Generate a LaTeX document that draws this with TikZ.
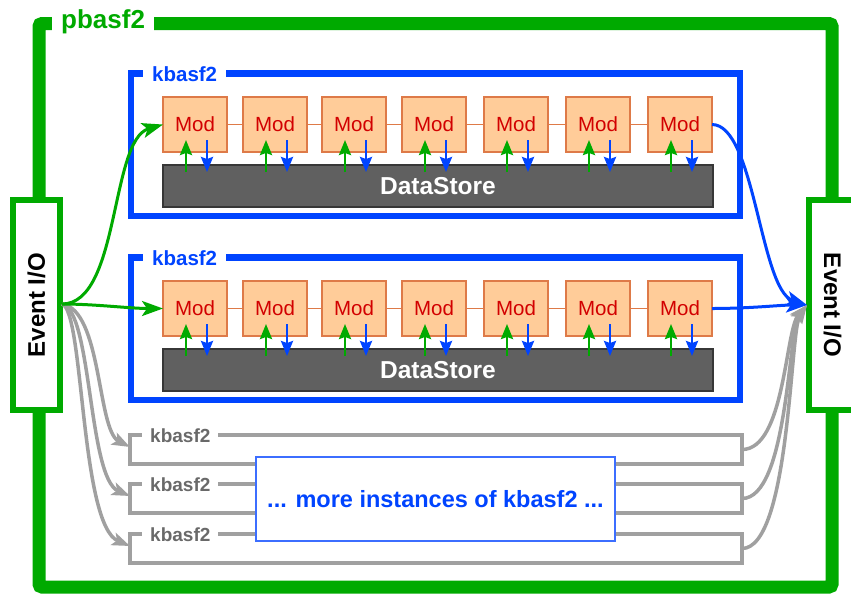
\documentclass[tikz,border=0pt]{standalone}
\usepackage{fontspec}
\setmainfont{Liberation Sans}
\usetikzlibrary{arrows.meta,calc}
\definecolor{pgreen}{RGB}{0,170,0}
\definecolor{kblue}{RGB}{0,68,255}
\definecolor{kbluelt}{RGB}{60,110,255}
\definecolor{modfill}{RGB}{255,204,153}
\definecolor{modline}{RGB}{222,122,72}
\definecolor{modtext}{RGB}{210,0,0}
\definecolor{dsfill}{RGB}{96,96,96}
\definecolor{dsline}{RGB}{55,55,55}
\definecolor{glines}{RGB}{160,160,160}
\definecolor{gtext}{RGB}{105,105,105}
\begin{document}
\begin{tikzpicture}[x=1pt,y=-1pt,
  modbox/.style={draw=modline,fill=modfill,line width=1.5pt,minimum width=64pt,minimum height=55pt,inner sep=0pt,outer sep=0pt,text=modtext,font=\fontsize{20.5}{24}\selectfont},
  dsbox/.style={draw=dsline,fill=dsfill,line width=1.2pt,minimum width=550pt,minimum height=42pt,inner sep=0pt,outer sep=0pt,text=white,font=\bfseries\fontsize{24.5}{28}\selectfont},
  kbox/.style={draw=kblue,line width=6.5pt,minimum width=609pt,minimum height=142.5pt,inner sep=0pt,outer sep=0pt},
  klabel/.style={fill=white,text=kblue,font=\bfseries\fontsize{20.5}{24}\selectfont,inner xsep=9pt,inner ysep=3pt,anchor=base west},
  plabel/.style={fill=white,text=pgreen,font=\bfseries\fontsize{26}{30}\selectfont,inner xsep=9pt,inner ysep=4pt,anchor=base west},
  gbox/.style={draw=glines,line width=3.5pt,minimum width=612pt,minimum height=29pt,inner sep=0pt,outer sep=0pt},
  glabel/.style={fill=white,text=gtext,font=\bfseries\fontsize{19}{22}\selectfont,inner xsep=8pt,inner ysep=2pt,anchor=base west},
  morebox/.style={draw=kbluelt,fill=white,line width=1.5pt,minimum width=359pt,minimum height=84pt,inner sep=0pt,outer sep=0pt,text=kblue,font=\bfseries\fontsize{23.5}{28}\selectfont},
  evbox/.style={draw=pgreen,fill=white,line width=6pt,minimum width=210pt,minimum height=47pt,inner sep=0pt,outer sep=0pt,font=\bfseries\fontsize{24}{28}\selectfont},
  link/.style={draw=modline,line width=1.6pt},
  uparrow/.style={draw=pgreen,line width=2.5pt,-{Stealth[length=15pt,width=12pt,inset=2pt]}},
  downarrow/.style={draw=kblue,line width=2.5pt,-{Stealth[length=15pt,width=12pt,inset=2pt]}},
  greenflow/.style={draw=pgreen,line width=3pt,-{Stealth[length=21pt,width=15pt,inset=5pt]}},
  blueflow/.style={draw=kblue,line width=3pt,-{Stealth[length=21pt,width=15pt,inset=5pt]}},
  grayflow/.style={draw=glines,line width=3.5pt,-{Stealth[length=18pt,width=13pt,inset=4pt]}},
]
\useasboundingbox (0,0) rectangle (851,595);
\fill[white] (0,0) rectangle (851,595);

% outer pbasf2 frame
\draw[pgreen,line width=13pt,rounded corners=3pt] (39,23.5) rectangle (832,587);
\node[plabel] (plab) at (52,28.5) {pbasf2};

% Event I/O boxes
\node[evbox,rotate=90] (evL) at (36.5,305) {Event I/O};
\node[evbox,rotate=-90] (evR) at (832.5,305) {Event I/O};
\coordinate (inL) at (62,304);
\coordinate (inR) at (807,305);

% two detailed kbasf2 instances
\foreach \r/\dy in {1/0,2/184} {
  \node[kbox] (k\r) at (435.5,144.75+\dy) {};
  \node[klabel] (kl\r) at (143,81.5+\dy) {kbasf2};
  \node[dsbox] (ds\r) at (438,186+\dy) {DataStore};
  \foreach \cx [count=\i] in {195,275,354,434,516,598,680} {
    \node[modbox] (m\r\i) at (\cx,124.5+\dy) {Mod};
  }
  \foreach \i [evaluate=\i as \j using int(\i+1)] in {1,...,6} {
    \draw[link] (m\r\i) -- (m\r\j);
  }
  \foreach \i in {1,...,7} {
    \draw[uparrow] ($(m\r\i.south west)+(23,20)$) -- ($(m\r\i.south west)+(23,-12)$);
    \draw[downarrow] ($(m\r\i.south west)+(44,-12)$) -- ($(m\r\i.south west)+(44,20)$);
  }
}

% gray instances
\foreach \n/\y in {1/449.5,2/498.5,3/548.5} {
  \node[gbox] (g\n) at (436,\y) {};
  \node[glabel] (gl\n) at (142,\y-7.5) {kbasf2};
}
\node[morebox] (more) at (435.5,499) {... more instances of kbasf2 ...};

% gray flows
\draw[grayflow] (inL) .. controls (102,310) and (97,430) .. ($(g1.west)+(0,-2.5)$);
\draw[grayflow] (inL) .. controls (92,310) and (88,478) .. ($(g2.west)+(0,-2.5)$);
\draw[grayflow] (inL) .. controls (84,310) and (80,525) .. ($(g3.west)+(0,-2.5)$);
\draw[grayflow] (g1.east) .. controls (785,449.5) and (785,330) .. (inR);
\draw[grayflow] (g2.east) .. controls (788,498.5) and (788,330) .. (inR);
\draw[grayflow] (g3.east) .. controls (790,548.5) and (790,330) .. (inR);

% green flows
\draw[greenflow] (inL) .. controls (120,304) and (110,140) .. (m11.west);
\draw[greenflow] (inL) .. controls (95,304) and (130,308.5) .. (m21.west);

% blue flows
\draw[blueflow] (m17.east) .. controls (755,124.5) and (760,290) .. (inR);
\draw[blueflow] (m27.east) .. controls (750,308.5) and (780,305) .. (inR);
\end{tikzpicture}
\end{document}
